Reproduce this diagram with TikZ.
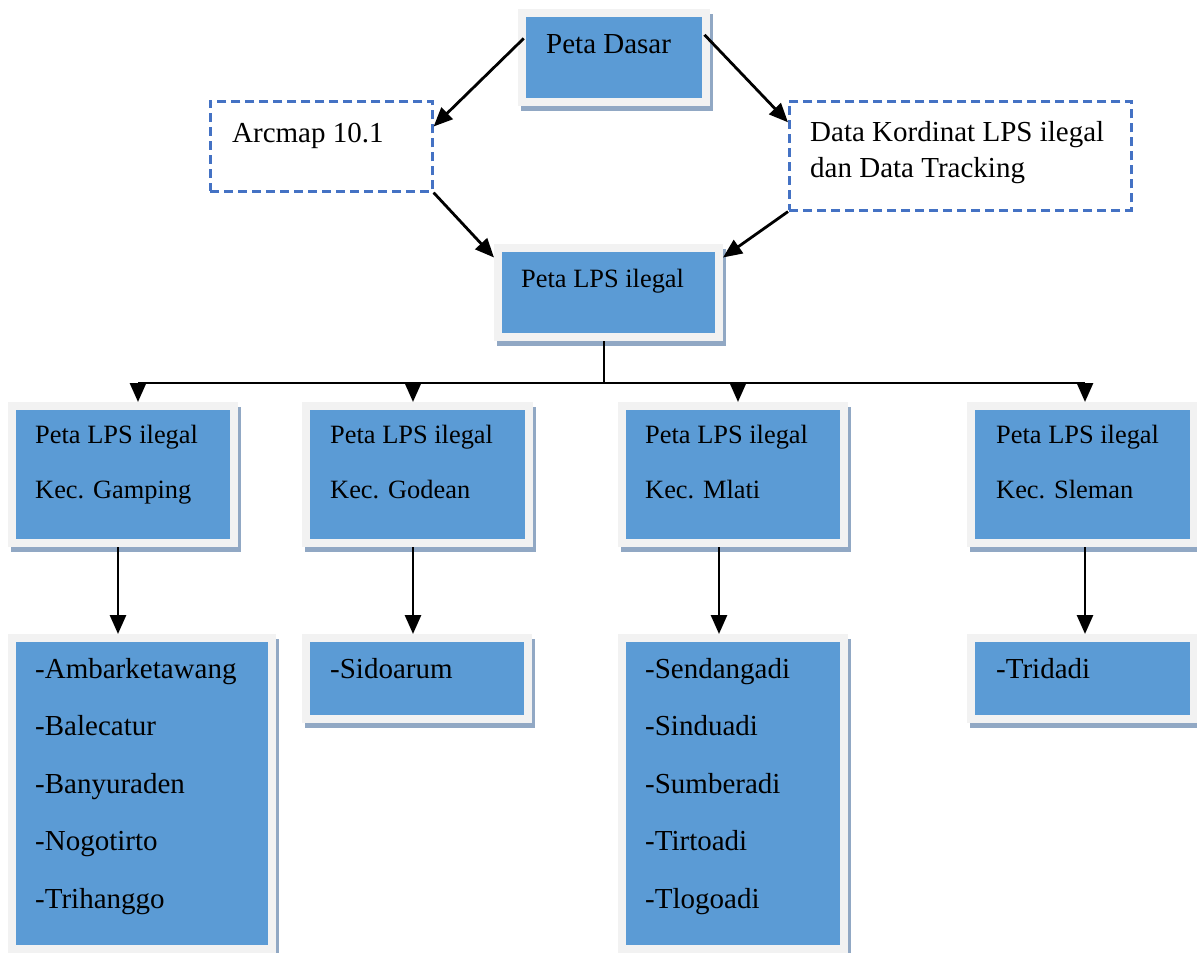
\documentclass[tikz,border=0pt]{standalone}
\usepackage{fontspec}
\setmainfont{Liberation Serif}
\usepackage{tikz}
\usetikzlibrary{arrows.meta, calc, shadows}
\definecolor{boxblue}{HTML}{5B9BD5}
\definecolor{framegray}{HTML}{F2F2F2}
\definecolor{shadowblue}{HTML}{91A8C4}
\definecolor{dashblue}{HTML}{4472C4}
\newcommand{\bigtxt}{\fontsize{29}{34}\selectfont}
\newcommand{\smalltxt}{\fontsize{26.4}{32}\selectfont}

\begin{document}
\begin{tikzpicture}[x=1pt, y=-1pt,
  petabox/.style={rectangle, anchor=north west, inner sep=0pt, fill=boxblue,
    draw=framegray, line width=8pt,
    general shadow={fill=shadowblue, draw=shadowblue, line width=8pt,
      shadow xshift=3pt, shadow yshift=-5pt}},
  dashbox/.style={rectangle, anchor=north west, inner sep=0pt, draw=dashblue,
    line width=2.6pt, dash pattern=on 9pt off 5pt},
  judul/.style={anchor=base west, inner sep=0pt, font=\bigtxt},
  kecil/.style={anchor=base west, inner sep=0pt, font=\smalltxt},
  panah/.style={line width=2.8pt, -{Triangle[length=19pt, width=16pt]}},
  garis/.style={line width=2.4pt}]
\useasboundingbox (0,0) rectangle (1197,953);

% Peta dasar dan masukan
\node[petabox, minimum width=184pt, minimum height=89pt] (dasar) at (518,9) {};
\node[judul] (dasar-t) at (546,53) {Peta Dasar};
\node[dashbox, minimum width=222pt, minimum height=90pt] (arcmap) at (209,100) {};
\node[judul] (arcmap-t) at (232,142) {Arcmap 10.1};
\node[dashbox, minimum width=342pt, minimum height=109pt] (kordinat) at (788,100) {};
\node[judul] (kordinat-t1) at (810,141) {Data Kordinat LPS ilegal};
\node[judul] (kordinat-t2) at (810,177) {dan Data Tracking};

% Peta LPS ilegal
\node[petabox, minimum width=221pt, minimum height=89pt] (lps) at (494,244) {};
\node[kecil] (lps-t) at (521,287) {Peta LPS ilegal};

% Peta per kecamatan
\node[petabox, minimum width=222pt, minimum height=137pt] (gamping) at (8,402) {};
\node[petabox, minimum width=223pt, minimum height=137pt] (godean) at (302,402) {};
\node[petabox, minimum width=222pt, minimum height=137pt] (mlati) at (618,402) {};
\node[petabox, minimum width=223pt, minimum height=137pt] (sleman) at (967,402) {};
\node[kecil] (gamping-t1) at (35,443) {Peta LPS ilegal};
\node[kecil] (gamping-t2) at (35,498) {Kec. Gamping};
\node[kecil] (godean-t1) at (330,443) {Peta LPS ilegal};
\node[kecil] (godean-t2) at (330,498) {Kec. Godean};
\node[kecil] (mlati-t1) at (645,443) {Peta LPS ilegal};
\node[kecil] (mlati-t2) at (645,498) {Kec. Mlati};
\node[kecil] (sleman-t1) at (996,443) {Peta LPS ilegal};
\node[kecil] (sleman-t2) at (996,498) {Kec. Sleman};

% Desa
\node[petabox, minimum width=260pt, minimum height=311pt] (desagamping) at (8,634) {};
\node[petabox, minimum width=222pt, minimum height=81pt] (desagodean) at (302,634) {};
\node[petabox, minimum width=222pt, minimum height=311pt] (desamlati) at (618,634) {};
\node[petabox, minimum width=223pt, minimum height=81pt] (desasleman) at (967,634) {};
\foreach \i/\desa in {0/Ambarketawang, 1/Balecatur, 2/Banyuraden, 3/Nogotirto, 4/Trihanggo}
  \node[judul] (desagamping-\i) at (35,678+57.5*\i) {-\desa};
\node[judul] (desagodean-0) at (330,678) {-Sidoarum};
\foreach \i/\desa in {0/Sendangadi, 1/Sinduadi, 2/Sumberadi, 3/Tirtoadi, 4/Tlogoadi}
  \node[judul] (desamlati-\i) at (645,678+57.5*\i) {-\desa};
\node[judul] (desasleman-0) at (996,678) {-Tridadi};

% Panah
\draw[panah, shorten <=-8pt] (dasar.172) -- (arcmap.10);
\draw[panah, shorten <=-8pt] (dasar.10) -- (kordinat.169);
\draw[panah] (arcmap.south east) -- (lps.163);
\draw[panah] (kordinat.south west) -- (lps.17);

\coordinate (cabang) at (604,383);
\coordinate (b1) at (138,383);
\coordinate (b2) at (413,383);
\coordinate (b3) at (738,383);
\coordinate (b4) at (1085,383);
\draw[garis] (cabang |- lps.south) -- (cabang);
\draw[garis] (b1) -- (b4);
\draw[panah] (b1) -- (b1 |- gamping.north);
\draw[panah] (b2) -- (b2 |- godean.north);
\draw[panah] (b3) -- (b3 |- mlati.north);
\draw[panah] (b4) -- (b4 |- sleman.north);

\draw[panah] ([xshift=-5pt]gamping.south) -- ([xshift=-5pt]gamping.south |- desagamping.north);
\draw[panah] ([xshift=-4.5pt]godean.south) -- ([xshift=-4.5pt]godean.south |- desagodean.north);
\draw[panah] ([xshift=-14pt]mlati.south) -- ([xshift=-14pt]mlati.south |- desamlati.north);
\draw[panah] ([xshift=2.5pt]sleman.south) -- ([xshift=2.5pt]sleman.south |- desasleman.north);
\end{tikzpicture}
\end{document}
